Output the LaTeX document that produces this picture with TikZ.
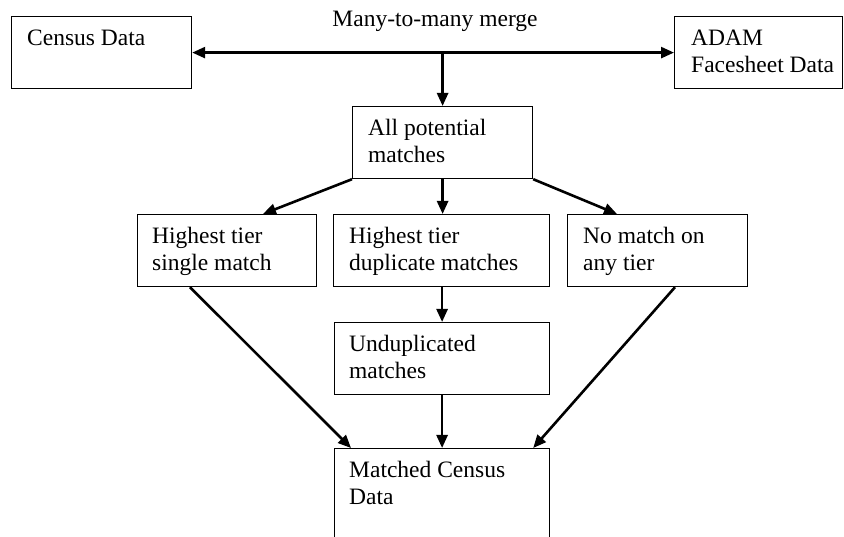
\documentclass[tikz,border=0pt]{standalone}
\usepackage{fontspec}
\setmainfont{Liberation Serif}
\usetikzlibrary{arrows.meta,calc}
\begin{document}
\begin{tikzpicture}[x=1pt,y=-1pt,
  box/.style={draw,line width=1.2pt,inner sep=0pt,anchor=north west},
  txt/.style={inner sep=0pt,anchor=base west,font=\fontsize{23.5}{27.5}\selectfont},
  arr/.style={line width=2.6pt,-{Triangle[length=13pt,width=11pt]}},
  darr/.style={line width=2.6pt,{Triangle[length=13pt,width=11pt]}-{Triangle[length=13pt,width=11pt]}}]
\useasboundingbox (0,0) rectangle (844,537);
\clip (0,0) rectangle (844,537);
% boxes
\node[box,minimum width=180pt,minimum height=72pt] (cen) at (11,16) {};
\node[box,minimum width=168pt,minimum height=72pt] (adam) at (674,16) {};
\node[box,minimum width=180pt,minimum height=72pt] (apm) at (352,106) {};
\node[box,minimum width=179pt,minimum height=72pt] (lft) at (137,214) {};
\node[box,minimum width=216pt,minimum height=72pt] (mid) at (333,214) {};
\node[box,minimum width=180pt,minimum height=72pt] (rgt) at (567,214) {};
\node[box,minimum width=215pt,minimum height=72pt] (und) at (334,322) {};
\node[box,minimum width=215pt,minimum height=110pt] (mat) at (334,448) {};
% texts
\node[txt,anchor=base] (mlbl) at (435,26.7) {Many-to-many merge};
\node[txt] (cenT) at ($(cen.north west)+(16,29.5)$) {Census Data};
\node[txt] (adamT) at ($(adam.north west)+(17,29.5)$) {\begin{tabular}[t]{@{}l@{}}ADAM\\Facesheet Data\end{tabular}};
\node[txt] (apmT) at ($(apm.north west)+(16,29.3)$) {\begin{tabular}[t]{@{}l@{}}All potential\\matches\end{tabular}};
\node[txt] (lftT) at ($(lft.north west)+(15,29.3)$) {\begin{tabular}[t]{@{}l@{}}Highest tier\\single match\end{tabular}};
\node[txt] (midT) at ($(mid.north west)+(16,29.3)$) {\begin{tabular}[t]{@{}l@{}}Highest tier\\duplicate matches\end{tabular}};
\node[txt] (rgtT) at ($(rgt.north west)+(16,29.3)$) {\begin{tabular}[t]{@{}l@{}}No match on\\any tier\end{tabular}};
\node[txt] (undT) at ($(und.north west)+(15,29.3)$) {\begin{tabular}[t]{@{}l@{}}Unduplicated\\matches\end{tabular}};
\node[txt] (matT) at ($(mat.north west)+(15,29.0)$) {\begin{tabular}[t]{@{}l@{}}Matched Census\\Data\end{tabular}};
% connectors
\coordinate (m) at (apm.north |- cen.east);
\draw[darr] (cen.east) -- (adam.west);
\draw[arr] (m) -- (apm.north);
\draw[arr] (apm.south west) -- ($(lft.north west)+(126,0)$);
\draw[arr] (apm.south) -- (apm.south |- mid.north);
\draw[arr] (apm.south east) -- ($(rgt.north west)+(50,0)$);
\draw[arr] (und.north |- mid.south) -- (und.north);
\draw[arr] (und.south) -- (mat.north);
\draw[arr] ($(lft.south west)+(53,0)$) -- ($(mat.north west)+(17,0)$);
\draw[arr] ($(rgt.south west)+(108,0)$) -- ($(mat.north east)+(-17,0)$);
\end{tikzpicture}
\end{document}
